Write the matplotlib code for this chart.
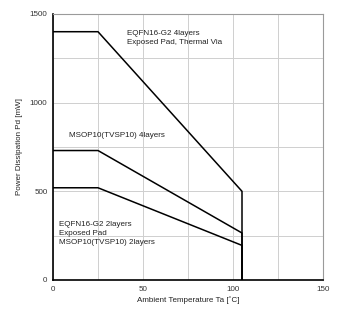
import matplotlib
matplotlib.use("Agg")
import matplotlib.pyplot as plt

plt.rcParams['font.family'] = ['Liberation Sans', 'DejaVu Sans']

# Data
eqfn4_x = [0, 25, 105, 105]
eqfn4_y = [1400, 1400, 500, 0]
msop4_x = [0, 25, 105, 105]
msop4_y = [730, 730, 265, 0]
low_x = [0, 25, 105, 105]
low_y = [520, 520, 195, 0]

xticks = [0, 50, 100, 150]
yticks = [0, 500, 1000, 1500]

fig = plt.figure(figsize=(3.43, 3.25), dpi=100)
ax = fig.add_axes([0.1545, 0.1385, 0.7872, 0.8185])

ax.set_xlim(0, 150)
ax.set_ylim(0, 1500)
ax.set_xticks(xticks)
ax.set_yticks(yticks)
ax.set_xticks(range(0, 151, 25), minor=True)
ax.set_yticks(range(0, 1501, 250), minor=True)
ax.grid(True, which='both', color='#cfcfcf', linewidth=0.7)
ax.set_axisbelow(True)
ax.tick_params(which='both', length=0, labelsize=5.8, colors='#333333', pad=4)

for s in ['top', 'right']:
    ax.spines[s].set_color('#9a9a9a')
    ax.spines[s].set_linewidth(0.8)
for s in ['left', 'bottom']:
    ax.spines[s].set_color('black')
    ax.spines[s].set_linewidth(1.2)

lw = 1.1
ax.plot(eqfn4_x, eqfn4_y, color='black', lw=lw)
ax.plot(msop4_x, msop4_y, color='black', lw=lw)
ax.plot(low_x, low_y, color='black', lw=lw)

fs = 5.8
ax.text(41, 1412, "EQFN16-G2 4layers\nExposed Pad, Thermal Via", fontsize=fs,
        va='top', ha='left', linespacing=1.45, color='#222222')
ax.text(9, 812, "MSOP10(TVSP10) 4layers", fontsize=fs, va='center', ha='left', color='#222222')
ax.text(3.5, 332, "EQFN16-G2 2layers\nExposed Pad\nMSOP10(TVSP10) 2layers", fontsize=fs,
        va='top', ha='left', linespacing=1.4, color='#222222')

ax.set_xlabel("Ambient Temperature Ta [\u02daC]", fontsize=fs, color='#222222', labelpad=3)
ax.set_ylabel("Power Dissipation Pd [mW]", fontsize=fs, color='#222222', labelpad=5)

fig.savefig("out.png", dpi=100)
